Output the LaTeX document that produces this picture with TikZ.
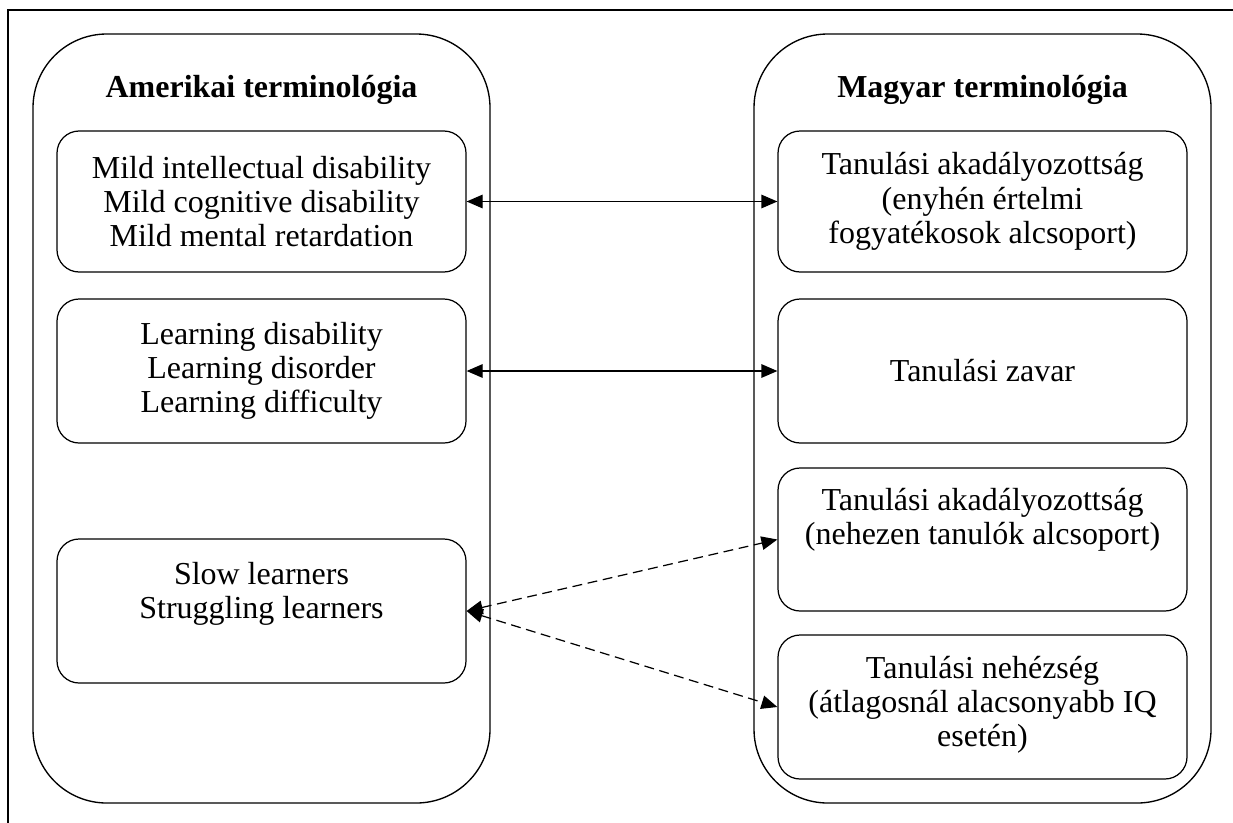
\documentclass[tikz,border=0pt]{standalone}
\usepackage{fontspec}
\setmainfont{Liberation Serif}
\usetikzlibrary{arrows.meta}
\begin{document}
\begin{tikzpicture}[x=0.4065pt,y=-0.4065pt,
  every node/.style={font=\fontsize{13pt}{13.9pt}\selectfont},
  container/.style={draw,line width=0.55pt,rounded corners=30pt,minimum width=457*0.4065pt,minimum height=769*0.4065pt,inner sep=0pt},
  termbox/.style={draw,line width=0.5pt,rounded corners=9pt,minimum width=409*0.4065pt,inner sep=0pt,align=center},
  txt/.style={align=center,inner sep=0pt},
  hdr/.style={font=\fontsize{13pt}{13.9pt}\selectfont\bfseries,inner sep=0pt,anchor=base},
  link/.style={line width=0.5pt,{Triangle[length=6.5pt,width=5.5pt]}-{Triangle[length=6.5pt,width=5.5pt]}},
  dlink/.style={link,dash pattern=on 4pt off 2.3pt}]
\useasboundingbox (0,0) rectangle (1233,822);
\clip (0,0) rectangle (1233,822);
\fill[white] (0,0) rectangle (1233,822);
% outer frame (cropped)
\draw[line width=0.65pt] (1260,10) -- (8,10) -- (8,850);
% containers
\node[container] (L) at (261.5,418.5) {};
\node[container] (R) at (982.5,418.5) {};
\node[hdr] (Lh) at (261.5,97) {Amerikai terminológia};
\node[hdr] (Rh) at (982.5,97) {Magyar terminológia};
% left boxes
\node[termbox,minimum height=141*0.4065pt] (L1) at (261.5,201.5) {Mild intellectual disability\\Mild cognitive disability\\Mild mental retardation};
\node[termbox,minimum height=144*0.4065pt] (L2) at (261.5,371) {Learning disability\\Learning disorder\\Learning difficulty};
\node[termbox,minimum height=144*0.4065pt] (L3) at (261.5,611) {};
\node[txt] (L3t) at (261.5,594) {Slow learners\\Struggling learners};
% right boxes
\node[termbox,minimum height=141*0.4065pt] (R1) at (982.5,201.5) {Tanulási akadályozottság\\(enyhén értelmi\\fogyatékosok alcsoport)};
\node[termbox,minimum height=144*0.4065pt] (R2) at (982.5,371) {Tanulási zavar};
\node[termbox,minimum height=143*0.4065pt] (R3) at (982.5,539.5) {};
\node[txt] (R3t) at (982.5,520) {Tanulási akadályozottság\\(nehezen tanulók alcsoport)};
\node[termbox,minimum height=144*0.4065pt] (R4) at (982.5,707) {};
\node[txt] (R4t) at (982.5,705) {Tanulási nehézség\\(átlagosnál alacsonyabb IQ\\esetén)};
% connectors
\draw[link] (L1.east) -- (R1.west);
\draw[link] (L2.east) -- (R2.west);
\draw[dlink] (L3.east) -- (R3.west);
\draw[dlink] (L3.east) -- (R4.west);
\end{tikzpicture}
\end{document}
